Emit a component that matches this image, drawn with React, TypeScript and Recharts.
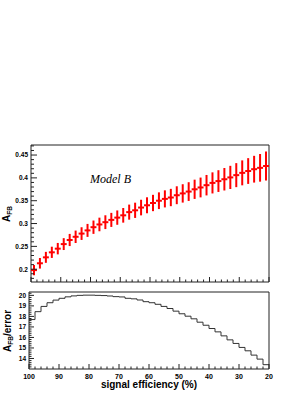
import { ComposedChart, Scatter, ErrorBar, Line, XAxis, YAxis, ReferenceArea } from "recharts";

// bin centres in signal efficiency (%), 2% wide bins
const efficiency = [
  99, 97, 95, 93, 91, 89, 87, 85, 83, 81, 79, 77, 75, 73, 71, 69, 67, 65, 63, 61,
  59, 57, 55, 53, 51, 49, 47, 45, 43, 41, 39, 37, 35, 33, 31, 29, 27, 25, 23, 21,
];
const binHalfWidth = 1;

const afb = [
  0.198, 0.213, 0.226, 0.237, 0.245, 0.255, 0.264, 0.271, 0.278, 0.285,
  0.292, 0.298, 0.303, 0.308, 0.313, 0.318, 0.325, 0.329, 0.335, 0.34,
  0.345, 0.35, 0.354, 0.357, 0.362, 0.366, 0.37, 0.375, 0.379, 0.384,
  0.389, 0.393, 0.397, 0.401, 0.406, 0.411, 0.415, 0.419, 0.422, 0.426,
];
const afbError = [
  0.0112, 0.0116, 0.012, 0.0123, 0.0125, 0.013, 0.0133, 0.0136, 0.0139, 0.0142,
  0.0146, 0.0149, 0.0151, 0.0154, 0.0157, 0.016, 0.0165, 0.0167, 0.0171, 0.0175,
  0.0179, 0.0183, 0.0187, 0.019, 0.0196, 0.0201, 0.0205, 0.0211, 0.0217, 0.0224,
  0.0231, 0.0238, 0.0246, 0.0254, 0.0263, 0.0273, 0.0282, 0.0293, 0.0303, 0.0318,
];
const significance = [
  17.7, 18.45, 18.95, 19.3, 19.55, 19.72, 19.86, 19.95, 20.0, 20.02,
  20.02, 20.0, 19.98, 19.94, 19.88, 19.85, 19.72, 19.67, 19.56, 19.4,
  19.3, 19.15, 18.95, 18.75, 18.5, 18.25, 18.02, 17.77, 17.45, 17.16,
  16.85, 16.53, 16.15, 15.77, 15.43, 15.05, 14.73, 14.32, 13.94, 13.41,
];

const xTicks = [
  100, 98, 96, 94, 92, 90, 88, 86, 84, 82, 80, 78, 76, 74, 72, 70, 68, 66, 64, 62, 60,
  58, 56, 54, 52, 50, 48, 46, 44, 42, 40, 38, 36, 34, 32, 30, 28, 26, 24, 22, 20,
];
const xLabels = [100, 90, 80, 70, 60, 50, 40, 30, 20];

const afbTicks = [
  0.18, 0.19, 0.2, 0.21, 0.22, 0.23, 0.24, 0.25, 0.26, 0.27, 0.28, 0.29, 0.3, 0.31, 0.32,
  0.33, 0.34, 0.35, 0.36, 0.37, 0.38, 0.39, 0.4, 0.41, 0.42, 0.43, 0.44, 0.45, 0.46, 0.47,
];
const afbLabels = [0.2, 0.25, 0.3, 0.35, 0.4, 0.45];

const sigTicks = [
  13.2, 13.4, 13.6, 13.8, 14, 14.2, 14.4, 14.6, 14.8, 15, 15.2, 15.4, 15.6, 15.8, 16, 16.2, 16.4, 16.6,
  16.8, 17, 17.2, 17.4, 17.6, 17.8, 18, 18.2, 18.4, 18.6, 18.8, 19, 19.2, 19.4, 19.6, 19.8, 20, 20.2,
];
const sigLabels = [14, 15, 16, 17, 18, 19, 20];

const afbDomain = [0.172, 0.472];
const sigDomain = [13.0, 20.32];

const topData = efficiency.map((e, i) => ({ eff: e, afb: afb[i], err: afbError[i], half: binHalfWidth }));
const bottomData = [
  ...efficiency.map((e, i) => ({ edge: e + binHalfWidth, sig: significance[i] })),
  { edge: efficiency[efficiency.length - 1] - binHalfWidth, sig: significance[significance.length - 1] },
];

const FONT = "'Liberation Sans', Arial, sans-serif";
const AXIS = "#222";

const isIn = (list: number[], v: number) => list.some((l) => Math.abs(l - v) < 1e-6);

function XTick(props: any) {
  const { x, y, payload, showLabel } = props;
  const major = isIn(xLabels, payload.value);
  return (
    <g>
      <line x1={x} x2={x} y1={y} y2={y - (major ? 5 : 2.5)} stroke={AXIS} strokeWidth={1} />
      {showLabel && major && (
        <text x={x} y={y + 10} textAnchor="middle" fontSize={7} fontWeight="bold" fontFamily={FONT} fill="#000">
          {payload.value}
        </text>
      )}
    </g>
  );
}

function YTick(props: any) {
  const { x, y, payload, labels, majorLen } = props;
  const major = isIn(labels, payload.value);
  return (
    <g>
      <line x1={x} x2={x + (major ? majorLen : majorLen / 2)} y1={y} y2={y} stroke={AXIS} strokeWidth={1} />
      {major && (
        <text x={x - 3} y={y + 2.3} textAnchor="end" fontSize={6.5} fontWeight="bold" fontFamily={FONT} fill="#000">
          {payload.value}
        </text>
      )}
    </g>
  );
}

export default function App() {
  return (
    <div style={{ position: "absolute", left: 0, top: 0, width: 306, height: 396, background: "#fff" }}>
      <div style={{ position: "absolute", left: 0, top: 0 }}>
        <ComposedChart width={306} height={290} data={topData} margin={{ top: 145, right: 37, bottom: 0, left: 0 }}>
          <XAxis
            dataKey="eff"
            type="number"
            domain={[20, 100]}
            reversed
            allowDataOverflow
            ticks={xTicks}
            interval={0}
            height={8}
            axisLine={false}
            tickLine={false}
            tickSize={0}
            tickMargin={0}
            tick={(p: any) => <XTick {...p} showLabel={false} />}
          />
          <YAxis
            type="number"
            domain={afbDomain}
            allowDataOverflow
            ticks={afbTicks}
            interval={0}
            width={31}
            axisLine={false}
            tickLine={false}
            tickSize={0}
            tickMargin={0}
            tick={(p: any) => <YTick {...p} labels={afbLabels} majorLen={6} />}
          />
          <ReferenceArea x1={20} x2={100} y1={afbDomain[0]} y2={afbDomain[1]} fill="none" stroke={AXIS} strokeWidth={1} ifOverflow="visible" />
          <Scatter dataKey="afb" isAnimationActive={false} shape={() => <g />}>
            <ErrorBar dataKey="err" direction="y" width={0} stroke="#ff0000" strokeWidth={2} isAnimationActive={false} />
            <ErrorBar dataKey="half" direction="x" width={0} stroke="#ff0000" strokeWidth={2} isAnimationActive={false} />
          </Scatter>
        </ComposedChart>
      </div>
      <div style={{ position: "absolute", left: 0, top: 282 }}>
        <ComposedChart width={306} height={114} data={bottomData} margin={{ top: 10, right: 37, bottom: 0, left: 0 }}>
          <XAxis
            dataKey="edge"
            type="number"
            domain={[20, 100]}
            reversed
            allowDataOverflow
            ticks={xTicks}
            interval={0}
            height={27}
            axisLine={false}
            tickLine={false}
            tickSize={0}
            tickMargin={0}
            tick={(p: any) => <XTick {...p} showLabel />}
          />
          <YAxis
            type="number"
            domain={sigDomain}
            allowDataOverflow
            ticks={sigTicks}
            interval={0}
            width={29}
            axisLine={false}
            tickLine={false}
            tickSize={0}
            tickMargin={0}
            tick={(p: any) => <YTick {...p} labels={sigLabels} majorLen={5} />}
          />
          <ReferenceArea x1={20} x2={100} y1={sigDomain[0]} y2={sigDomain[1]} fill="none" stroke={AXIS} strokeWidth={1} ifOverflow="visible" />
          <Line dataKey="sig" type="stepAfter" stroke="#333" strokeWidth={1} dot={false} isAnimationActive={false} />
        </ComposedChart>
      </div>
      <svg width={306} height={396} style={{ position: "absolute", left: 0, top: 0, pointerEvents: "none" }}>
        <text x={90} y={183} fontSize={12} fontStyle="italic" fontFamily="'Liberation Serif', 'Times New Roman', serif" fill="#000">
          Model B
        </text>
        <text transform="translate(10,222) rotate(-90)" fontSize={10} fontWeight="bold" fontFamily={FONT} fill="#000">
          A<tspan fontSize={6.5} dy={2}>FB</tspan>
        </text>
        <text transform="translate(10.5,352) rotate(-90)" fontSize={10} fontWeight="bold" fontFamily={FONT} fill="#000">
          A<tspan fontSize={6.5} dy={2}>FB</tspan>
          <tspan dy={-2}>/error</tspan>
        </text>
        <text x={149} y={388} textAnchor="middle" fontSize={10} fontWeight="bold" fontFamily={FONT} fill="#000">
          signal efficiency (%)
        </text>
      </svg>
    </div>
  );
}
